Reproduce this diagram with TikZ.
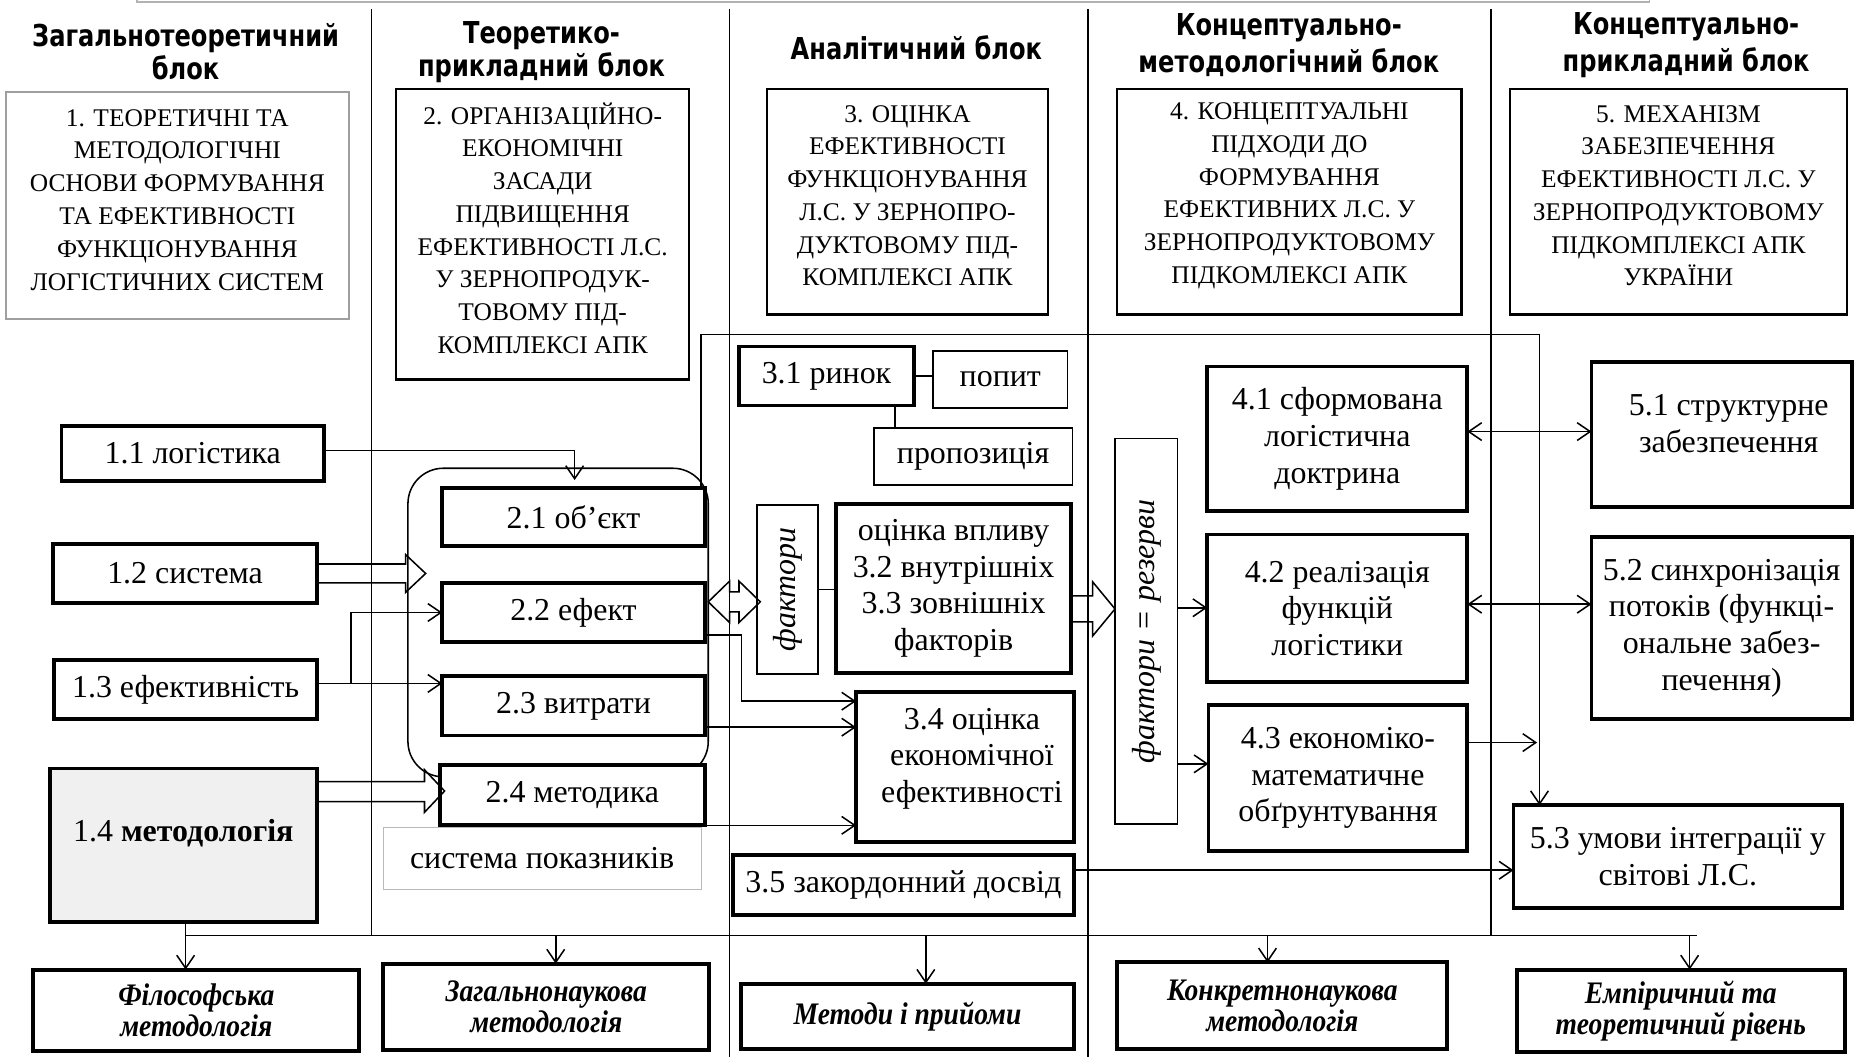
\documentclass[tikz,border=0pt]{standalone}
\usepackage{fontspec}
\setmainfont{Liberation Serif}
\newfontfamily\hdrfamily{DejaVu Sans}[FakeStretch=0.8]
\newfontfamily\levelfamily{Liberation Serif}[FakeStretch=0.88]
\usetikzlibrary{arrows.meta,calc}

\newcommand\hdrfont{\hdrfamily\bfseries\fontsize{25.5}{28}\selectfont}
\newcommand\hdrfontb{\hdrfamily\bfseries\fontsize{25.5}{31}\selectfont}
\newcommand\capsfont{\fontsize{21.5}{27.7}\selectfont}
\newcommand\bodyfont{\fontsize{27}{31}\selectfont}
\newcommand\levelfont{\levelfamily\bfseries\itshape\fontsize{26.5}{26}\selectfont}

\begin{document}
\begin{tikzpicture}[x=1pt,y=-1pt,
  every node/.style={inner sep=0pt, outer sep=0pt, align=center},
  wh/.style 2 args={minimum width=#1pt, minimum height=#2pt},
  thickbox/.style={draw, line width=3.2pt, fill=white, font=\bodyfont},
  thinbox/.style={draw, line width=1.3pt, fill=white, font=\bodyfont},
  descbox/.style={draw, line width=1.8pt},
  desctext/.style={font=\capsfont, yshift=5pt},
  levelbox/.style={draw, line width=3.4pt, font=\levelfont},
  hdr/.style={font=\hdrfont},
  conn/.style={line width=1.3pt, -{Straight Barb[length=11pt,width=15pt]}},
  biconn/.style={line width=1.3pt, {Straight Barb[length=11pt,width=15pt]}-{Straight Barb[length=11pt,width=15pt]}},
  link/.style={line width=1.3pt},
  hollow/.style={line width=1.3pt, line join=miter},
  divider/.style={line width=1.2pt},
]
\useasboundingbox (0,0) rectangle (1568,894);
\fill[white] (0,0) rectangle (1568,894);

% edge of the frame above the scheme
\draw[gray!60, line width=1.5pt] (116,-4) -- (116,2) -- (1395,2) -- (1395,-4);

% column dividers
\draw[divider] (314,8) -- (314,791);
\draw[divider] (617,8) -- (617,894);
\draw[divider] (920,8) -- (920,894);
\draw[divider] (1261,8) -- (1261,791);

% column headings
\node[hdr] (h1) at (157,44) {Загальнотеоретичний\\блок};
\node[hdr] (h2) at (458,44) {Теоретико-\\прикладний блок};
\node[hdr] (h3) at (775,40) {Аналітичний блок};
\node[hdr, font=\hdrfontb] (h4) at (1090,38) {Концептуально-\\методологічний блок};
\node[hdr, font=\hdrfontb] (h5) at (1426,38) {Концептуально-\\прикладний блок};

% block descriptions
\node[descbox, draw=gray!75, wh={290}{192},
  label={[desctext]center:{1. ТЕОРЕТИЧНІ ТА\\МЕТОДОЛОГІЧНІ\\ОСНОВИ ФОРМУВАННЯ\\ТА ЕФЕКТИВНОСТІ\\ФУНКЦІОНУВАННЯ\\ЛОГІСТИЧНИХ СИСТЕМ}}]
  (d1) at (150,174) {};
\node[descbox, wh={248}{246},
  label={[desctext]center:{2. ОРГАНІЗАЦІЙНО-\\ЕКОНОМІЧНІ\\ЗАСАДИ\\ПІДВИЩЕННЯ\\ЕФЕКТИВНОСТІ Л.С.\\У ЗЕРНОПРОДУК-\\ТОВОМУ ПІД-\\КОМПЛЕКСІ АПК}}]
  (d2) at (459,198) {};
\node[descbox, wh={237}{191},
  label={[desctext]center:{3. ОЦІНКА\\ЕФЕКТИВНОСТІ\\ФУНКЦІОНУВАННЯ\\Л.С. У ЗЕРНОПРО-\\ДУКТОВОМУ ПІД-\\КОМПЛЕКСІ АПК}}]
  (d3) at (767.5,170.5) {};
\node[descbox, wh={291}{191},
  label={[desctext]center:{4. КОНЦЕПТУАЛЬНІ\\ПІДХОДИ ДО\\ФОРМУВАННЯ\\ЕФЕКТИВНИХ Л.С. У\\ЗЕРНОПРОДУКТОВОМУ\\ПІДКОМЛЕКСІ АПК}}]
  (d4) at (1090.5,170.5) {};
\node[descbox, wh={285}{191},
  label={[desctext]center:{5. МЕХАНІЗМ\\ЗАБЕЗПЕЧЕННЯ\\ЕФЕКТИВНОСТІ Л.С. У\\ЗЕРНОПРОДУКТОВОМУ\\ПІДКОМПЛЕКСІ АПК\\УКРАЇНИ}}]
  (d5) at (1419.5,170.5) {};

% grouping frame of the second block
\node[draw, line width=1.3pt, rounded corners=30pt, wh={254}{261}] (grp) at (472,526.5) {};

% first block
\node[thickbox, wh={222}{47}] (n11) at (163,383.5) {1.1 логістика};
\node[thickbox, wh={223}{50}] (n12) at (156.5,485) {1.2 система};
\node[thickbox, wh={222}{50}] (n13) at (157,583) {1.3 ефективність};
\node[thickbox, fill=gray!12, wh={226}{130},
  label={[font=\bodyfont, yshift=10pt]center:{1.4 \textbf{методологія}}}] (n14) at (155,715) {};

% second block
\node[thickbox, wh={222}{49}] (n21) at (485,437.5) {2.1 об’єкт};
\node[thickbox, wh={222}{50}] (n22) at (485,518) {2.2 ефект};
\node[thickbox, wh={222}{50}] (n23) at (485,597) {2.3 витрати};
\node[thickbox, wh={224}{51}] (n24) at (484,672.5) {2.4 методика};
\node[thinbox, draw=gray!55, line width=0.9pt, wh={269}{52}] (sp) at (458.5,726) {система показників};

% third block
\node[thickbox, wh={148}{50}] (n31) at (699,318) {3.1 ринок};
\node[thinbox, wh={114}{48}] (pop) at (846,321) {попит};
\node[thinbox, wh={168}{48}] (prop) at (823,386) {пропозиція};
\node[thinbox, wh={52}{143},
  label={[rotate=90, font=\bodyfont\itshape]center:фактори}] (fak) at (666,498.5) {};
\node[thickbox, wh={199}{143}] (ov) at (806.5,497.5) {оцінка впливу\\3.2 внутрішніх\\3.3 зовнішніх\\факторів};
\node[thickbox, wh={184}{127},
  label={[font=\bodyfont, yshift=7pt, xshift=6pt]center:{3.4 оцінка\\економічної\\ефективності}}] (n34) at (816,648.5) {};
\node[thickbox, wh={288}{51}] (n35) at (764,748.5) {3.5 закордонний досвід};

% fourth block
\node[thinbox, wh={53}{326},
  label={[rotate=90, font=\bodyfont\itshape]center:{фактори = резерви}}] (fr) at (969.5,534) {};
\node[thickbox, wh={220}{122}] (n41) at (1131,371) {4.1 сформована\\логістична\\доктрина};
\node[thickbox, wh={220}{125}] (n42) at (1131,514.5) {4.2 реалізація\\функцій\\логістики};
\node[thickbox, wh={219}{124}] (n43) at (1131.5,658) {4.3 економіко-\\математичне\\обґрунтування};

% fifth block
\node[thickbox, wh={220}{123},
  label={[font=\bodyfont, yshift=9pt, xshift=6pt]center:{5.1 структурне\\забезпечення}}] (n51) at (1456,367.5) {};
\node[thickbox, wh={220}{154}] (n52) at (1456,531) {5.2 синхронізація\\потоків (функці-\\ональне забез-\\печення)};
\node[thickbox, wh={278}{87}] (n53) at (1419,724.5) {5.3 умови інтеграції у\\світові Л.С.};

% methodological levels
\node[levelbox, wh={276}{69}] (b1) at (166,854.5) {Філософська\\методологія};
\node[levelbox, wh={276}{73}] (b2) at (462,851.5) {Загальнонаукова\\методологія};
\node[levelbox, wh={281}{55}] (b3) at (767.5,859.5) {Методи і прийоми};
\node[levelbox, wh={279}{73}] (b4) at (1084.5,850.5) {Конкретнонаукова\\методологія};
\node[levelbox, wh={277}{70}] (b5) at (1421.5,855) {Емпіричний та\\теоретичний рівень};

% connectors of the first block
\coordinate (a11) at (486,406);
\draw[conn] (n11.east |- 0,381) -| (a11);
\draw[hollow] ($(n12.east)+(0,-8)$) -- ++(75,0) -- ++(0,-8) -- ++(17,16) -- ++(-17,16) -- ++(0,-8) -- ++(-75,0);
\coordinate (j13) at (297,578);
\draw[conn] (n13.east |- j13) -- (n23.west |- j13);
\draw[conn] (j13) |- (n22.west);
\draw[hollow] ($(n14.north east)+(0,11)$) -- ++(91,0) -- ++(0,-10) -- ++(17,18) -- ++(-17,18) -- ++(0,-9) -- ++(-91,0);

% connectors of the second block
\draw[hollow] ($(n22.east)+(3,-9)$) -- ++(18,-17.5) -- ++(0,9) -- ++(8,0) -- ++(0,-9) -- ++(18,17.5)
  -- ++(-18,17.5) -- ++(0,-9) -- ++(-8,0) -- ++(0,9) -- cycle;
\draw[conn] ($(n22.east)+(0,19)$) -- ++(31,0) |- ($(n34.north west)+(0,8)$);
\draw[conn] ($(n23.east)+(0,18)$) -- ($(n34.north west)+(0,30)$);
\draw[conn] (n24.south east) -- (n34.west |- n24.south east);

% frame line from the second block to 5.3
\coordinate (fr1) at (593,283);
\coordinate (fr2) at (1302,283);
\draw[conn] (n21.north -| fr1) -- (fr1) -- (fr2) -- (fr2 |- n53.north);

% connectors of the third block
\draw[link] (n31.east) -- (pop.west |- n31.east);
\draw[link] (n31.south -| 757,0) -- (prop.north -| 757,0);
\draw[link] (fak.east) -- (ov.west |- fak.east);
\draw[hollow] ($(ov.east)+(0,6.5)$) -- ++(18,0) -- ++(0,-12) -- ++(19,23) -- ++(-19,23) -- ++(0,-12) -- ++(-18,0);
\coordinate (y35) at (0,736);
\draw[conn] (n35.east |- y35) -- (n53.west |- y35);

% connectors of the fourth block
\coordinate (y42b) at (0,514);
\coordinate (y43) at (0,646);
\draw[conn] (fr.east |- y42b) -- (n42.west |- y42b);
\draw[conn] (fr.east |- y43) -- (n43.west |- y43);
\coordinate (y41) at (0,365);
\coordinate (y42) at (0,511);
\draw[biconn] (n41.east |- y41) -- (n51.west |- y41);
\draw[biconn] (n42.east |- y42) -- (n52.west |- y42);
\coordinate (c43) at (1300,628);
\draw[conn] (n43.east |- c43) -- (c43);

% bus to the methodological levels
\coordinate (busL) at (157,791);
\coordinate (busR) at (1435,791);
\draw[link] (busL) -- (busR);
\draw[conn] (n14.south -| busL) -- (busL |- b1.north);
\coordinate (t2) at (470,791);
\coordinate (t3) at (783,791);
\coordinate (t4) at (1072,791);
\coordinate (t5) at (1429,791);
\draw[conn] (t2) -- (t2 |- b2.north);
\draw[conn] (t3) -- (t3 |- b3.north);
\draw[conn] (t4) -- (t4 |- b4.north);
\draw[conn] (t5) -- (t5 |- b5.north);
\end{tikzpicture}
\end{document}
